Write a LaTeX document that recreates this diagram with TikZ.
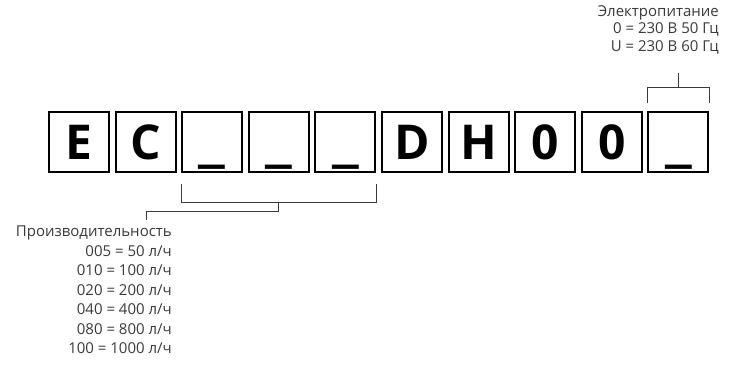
\documentclass[tikz,border=0pt]{standalone}
\usepackage{fontspec}
\setmainfont{Open Sans}
\usetikzlibrary{positioning,calc}
\definecolor{txtgray}{HTML}{3A3A3A}
\newcommand{\blank}{\scalebox{1.35}[1.3]{\_}}
\tikzset{
  codebox/.style={rectangle,draw,line width=2pt,minimum size=60pt,inner sep=0pt,
    text height=35pt,text depth=0pt,font=\fontsize{48}{48}\selectfont\bfseries},
  bracket/.style={draw=txtgray,line width=0.9pt},
  legend/.style={text=txtgray,align=right,inner sep=0pt},
  perflegend/.style={legend,font=\fontsize{15}{19.5}\selectfont},
  powlegend/.style={legend,font=\fontsize{15}{17.5}\selectfont}
}

\begin{document}
\begin{tikzpicture}[x=1pt,y=1pt]
        \useasboundingbox (0,0) rectangle (731,-374);
        % code boxes, one per character of the model string
        \node[codebox] (e) at (79,-142.5) {E};
        \node[codebox,right=4.6pt of e] (c) {C};
        \node[codebox,right=4.6pt of c] (cap1) {\blank};
        \node[codebox,right=4.6pt of cap1] (cap2) {\blank};
        \node[codebox,right=4.6pt of cap2] (cap3) {\blank};
        \node[codebox,right=4.6pt of cap3] (d) {D};
        \node[codebox,right=4.6pt of d] (h) {H};
        \node[codebox,right=4.6pt of h] (z1) {0};
        \node[codebox,right=4.6pt of z1] (z2) {0};
        \node[codebox,right=4.6pt of z2] (pw) {\blank};

        \node[perflegend,anchor=north east] (perf) at (172,-226)
          {Производительность\\005 = 50 л/ч\\010 = 100 л/ч\\020 = 200 л/ч\\040 = 400 л/ч\\080 = 800 л/ч\\100 = 1000 л/ч};
        \node[powlegend,anchor=north east] (pow) at (719,-5)
          {Электропитание\\0 = 230 В 50 Гц\\U = 230 В 60 Гц};

        % capacity bracket under the three blanks
        \draw[bracket] ([yshift=-11pt]cap1.south west) -- ++(0,-18) coordinate (pb1)
          -- (pb1 -| cap3.south east) coordinate (pb2) -- ++(0,18);
        \coordinate (pm) at ($(pb1)!0.5!(pb2)$);
        \coordinate (perfend) at (146,-220);
        \draw[bracket] (pm) -- ++(0,-9) -| (perfend);

        % power bracket over the last box
        \draw[bracket] ([yshift=8.5pt]pw.north west) -- ++(0,16) coordinate (tb1)
          -- (tb1 -| pw.north east) coordinate (tb2) -- ++(0,-16);
        \coordinate (tm) at ($(tb1)!0.5!(tb2)$);
        \draw[bracket] (tm) -- ++(0,14);
      \end{tikzpicture}
\end{document}
